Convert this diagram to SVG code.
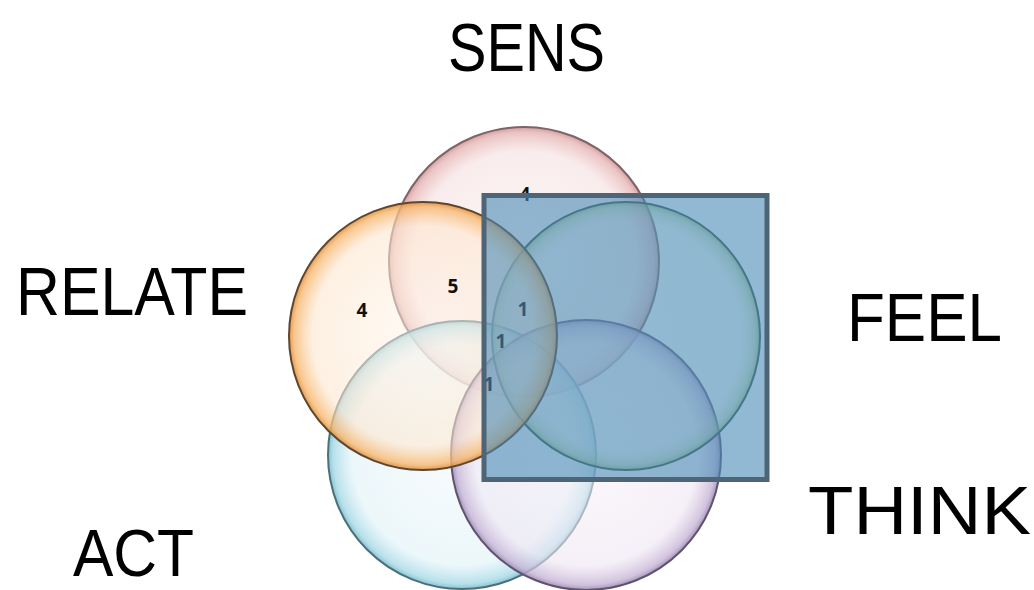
<svg xmlns="http://www.w3.org/2000/svg" width="1034" height="590" viewBox="0 0 1034 590">
<defs>
<style>
.title{font-family:"Liberation Sans",Arial,sans-serif;font-size:68px;fill:#000;}
.num{font-family:"Open Sans","Liberation Sans",sans-serif;font-size:19px;font-weight:bold;fill:#111;text-anchor:middle;}
.circ{stroke-width:2;}
</style>
<radialGradient id="gSens" cx="50%" cy="50%" r="50%">
<stop offset="0" stop-color="#fbf0f0" stop-opacity="0.5"/>
<stop offset="0.82" stop-color="#f5dcdc" stop-opacity="0.55"/>
<stop offset="0.96" stop-color="#e2aaaa" stop-opacity="0.7"/>
<stop offset="1" stop-color="#c78585" stop-opacity="0.8"/>
</radialGradient>
<radialGradient id="gRelate" cx="50%" cy="50%" r="50%">
<stop offset="0" stop-color="#fff5ea" stop-opacity="0.5"/>
<stop offset="0.82" stop-color="#fde7d0" stop-opacity="0.6"/>
<stop offset="0.96" stop-color="#f7b870" stop-opacity="0.8"/>
<stop offset="1" stop-color="#e09040" stop-opacity="0.9"/>
</radialGradient>
<radialGradient id="gFeel" cx="50%" cy="50%" r="50%">
<stop offset="0" stop-color="#f4f8ee" stop-opacity="0.1"/>
<stop offset="0.85" stop-color="#e4efd8" stop-opacity="0.15"/>
<stop offset="0.96" stop-color="#b6d196" stop-opacity="0.5"/>
<stop offset="1" stop-color="#8fb06a" stop-opacity="0.75"/>
</radialGradient>
<radialGradient id="gAct" cx="50%" cy="50%" r="50%">
<stop offset="0" stop-color="#f2f9fc" stop-opacity="0.6"/>
<stop offset="0.82" stop-color="#e2f3f8" stop-opacity="0.65"/>
<stop offset="0.96" stop-color="#a6d9e6" stop-opacity="0.8"/>
<stop offset="1" stop-color="#78bccd" stop-opacity="0.9"/>
</radialGradient>
<radialGradient id="gThink" cx="50%" cy="50%" r="50%">
<stop offset="0" stop-color="#f8f3f9" stop-opacity="0.55"/>
<stop offset="0.82" stop-color="#eee6f2" stop-opacity="0.6"/>
<stop offset="0.96" stop-color="#c6b4d6" stop-opacity="0.8"/>
<stop offset="1" stop-color="#9d88b4" stop-opacity="0.9"/>
</radialGradient>
</defs>
<rect width="1034" height="590" fill="#fff"/>
<g id="connectors"/>
<g id="sens-circle"><circle class="circ" cx="524" cy="262" r="135" fill="url(#gSens)" stroke="#7d6466"/></g>
<g id="act-circle"><circle class="circ" cx="462" cy="455" r="134" fill="url(#gAct)" stroke="#4d6f7a"/></g>
<g id="think-circle"><circle class="circ" cx="586" cy="455" r="135" fill="url(#gThink)" stroke="#5f5470"/></g>
<g id="feel-circle"><circle class="circ" cx="626" cy="336" r="134" fill="url(#gFeel)" stroke="#40594a"/></g>
<g id="relate-circle"><circle class="circ" cx="423" cy="336" r="134" fill="url(#gRelate)" stroke="#5e4630"/></g>
<g id="numbers">
<text class="num" x="525" y="201">4</text>
<text class="num" x="453" y="293">5</text>
<text class="num" x="362" y="317">4</text>
<text class="num" x="523" y="316">1</text>
<text class="num" x="501" y="348">1</text>
<text class="num" x="489" y="391">1</text>
</g>
<g id="square"><rect x="484" y="195.5" width="283" height="284" fill="#4a8ab5" fill-opacity="0.6" stroke="#4e6477" stroke-width="5"/></g>
<g id="labels">
<text id="sens" class="title" x="448" y="71" textLength="157" lengthAdjust="spacingAndGlyphs">SENS</text>
<text id="relate" class="title" x="16" y="315" textLength="232" lengthAdjust="spacingAndGlyphs">RELATE</text>
<text id="feel" class="title" x="847" y="341" textLength="155" lengthAdjust="spacingAndGlyphs">FEEL</text>
<text id="think" class="title" x="808" y="534" textLength="223" lengthAdjust="spacingAndGlyphs">THINK</text>
<text id="act" class="title" style="font-size:66px" x="73" y="575.5" textLength="121" lengthAdjust="spacingAndGlyphs">ACT</text>
</g>
</svg>
